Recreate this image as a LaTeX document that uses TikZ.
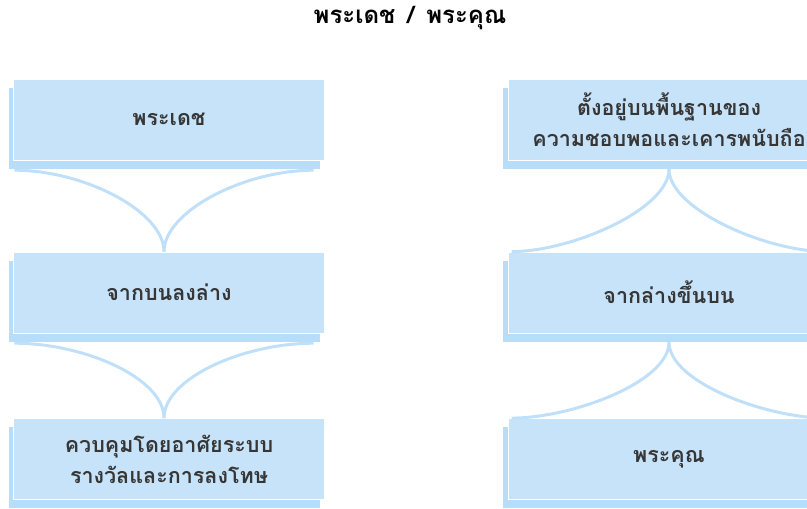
\documentclass[tikz,border=0pt]{standalone}
\usepackage{fontspec}
\newfontfamily\thaifont[Script=Thai]{Loma}
\usetikzlibrary{positioning}
\definecolor{boxblue}{HTML}{C7E3F9}
\definecolor{shadeblue}{HTML}{B7DDF8}
\definecolor{linkblue}{HTML}{C0E0F9}
\definecolor{textgray}{HTML}{363636}

\begin{document}
\begin{tikzpicture}[
  x=1pt,y=1pt,
  back/.style={fill=shadeblue,minimum width=311pt,minimum height=81pt,inner sep=0pt},
  box/.style={fill=boxblue,draw=white,line width=0.8pt,minimum width=311pt,
              minimum height=81pt,inner sep=0pt,align=center,text=textgray,
              font=\thaifont\bfseries\fontsize{21.5}{31}\selectfont},
  wide/.style={minimum width=322pt},
  link/.style={draw=linkblue,line width=3pt}
]
\useasboundingbox (0,0) rectangle (807,509);
\clip (0,0) rectangle (807,509);

\node[font=\thaifont\bfseries\fontsize{24}{26}\selectfont] (title) at (410,491)
  {พระเดช\hspace{12pt}/\hspace{12pt}พระคุณ};

% left column
\node[back] (As) at (164,380.5) {};
\node[box] (A) at ([shift={(5,9)}]As) {พระเดช};
\node[back] (Bs) at (164,207.5) {};
\node[box] (B) at ([shift={(5,9)}]Bs) {จากบนลงล่าง};
\node[back] (Cs) at (164,41) {};
\node[box] (C) at ([shift={(5,9)}]Cs) {ควบคุมโดยอาศัยระบบ\\รางวัลและการลงโทษ};

% right column
\node[back,wide] (Ds) at (664,380.5) {};
\node[box,wide] (D) at ([shift={(5,9)}]Ds) {ตั้งอยู่บนพื้นฐานของ\\ความชอบพอและเคารพนับถือ};
\node[back,wide] (Es) at (664,207.5) {};
\node[box,wide] (E) at ([shift={(5,9)}]Es) {จากล่างขึ้นบน};
\node[back,wide] (Fs) at (664,41) {};
\node[box,wide] (F) at ([shift={(5,9)}]Fs) {พระคุณ};

% top-down links
\draw[link] ([shift={(6,-1)}]As.south west) .. controls +(70,0) and +(0,40) .. (Bs |- B.north);
\draw[link] ([shift={(-6,-1)}]As.south east) .. controls +(-70,0) and +(0,40) .. (Bs |- B.north);
\draw[link] ([shift={(6,-1)}]Bs.south west) .. controls +(70,0) and +(0,40) .. (Cs |- C.north);
\draw[link] ([shift={(-6,-1)}]Bs.south east) .. controls +(-70,0) and +(0,40) .. (Cs |- C.north);

% bottom-up links
\draw[link] (D |- Ds.south) .. controls +(0,-40) and +(60,0) .. ([shift={(4,0)}]E.north west);
\draw[link] (D |- Ds.south) .. controls +(0,-40) and +(-60,0) .. ([shift={(-4,0)}]E.north east);
\draw[link] (E |- Es.south) .. controls +(0,-40) and +(60,0) .. ([shift={(4,0)}]F.north west);
\draw[link] (E |- Es.south) .. controls +(0,-40) and +(-60,0) .. ([shift={(-4,0)}]F.north east);
\end{tikzpicture}
\end{document}
